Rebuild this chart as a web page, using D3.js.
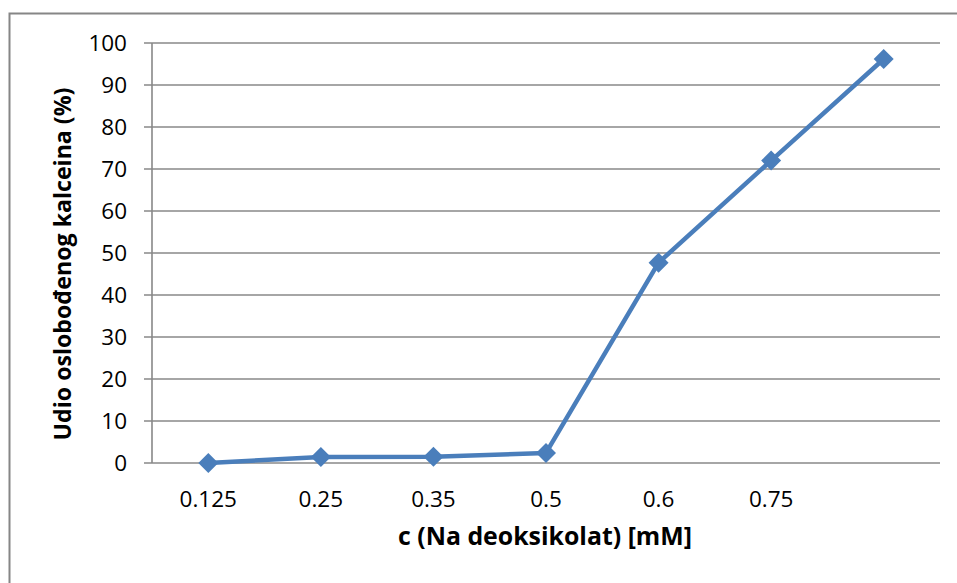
<!DOCTYPE html>
<html><head><meta charset="utf-8">
<script src="https://cdn.jsdelivr.net/npm/d3@7"></script>
<style>body{margin:0;background:#fff}svg{display:block}text{font-family:"Open Sans",Lato,sans-serif}</style>
</head><body>
<script>
const categories = ["0.125","0.25","0.35","0.5","0.6","0.75",""];
const values = [0, 1.4, 1.5, 2.4, 47.7, 72, 96.2];
const yTicks = [0,10,20,30,40,50,60,70,80,90,100];

const W=957,H=583;
const svg=d3.select("body").append("svg").attr("width",W).attr("height",H);
svg.append("rect").attr("x",9.5).attr("y",13.5).attr("width",960).attr("height",600)
  .attr("fill","#fff").attr("stroke","#868686").attr("stroke-width",2);

const L=152,R=940,T=43,B=463;
const x=d3.scaleBand().domain(d3.range(categories.length)).range([L,R]);
const y=d3.scaleLinear().domain([0,100]).range([B,T]);

svg.append("g").selectAll("line").data(yTicks).join("line")
  .attr("x1",L-8).attr("x2",R).attr("y1",d=>y(d)).attr("y2",d=>y(d))
  .attr("stroke","#888").attr("stroke-width",1.6);
svg.append("line").attr("x1",L).attr("x2",L).attr("y1",T).attr("y2",B)
  .attr("stroke","#888").attr("stroke-width",1.6);

svg.append("g").selectAll("text").data(yTicks).join("text")
  .attr("x",L-25).attr("y",d=>y(d)).attr("dy","0.36em").attr("text-anchor","end")
  .attr("font-size",22.5).attr("fill","#000").text(d=>d);

svg.append("g").selectAll("text").data(categories).join("text")
  .attr("x",(d,i)=>x(i)+x.bandwidth()/2).attr("y",507).attr("text-anchor","middle")
  .attr("font-size",22.5).attr("fill","#000").text(d=>d);

const line=d3.line().x((d,i)=>x(i)+x.bandwidth()/2).y(d=>y(d));
svg.append("path").datum(values).attr("d",line).attr("fill","none")
  .attr("stroke","#4a7ebb").attr("stroke-width",4.5).attr("stroke-linejoin","round");

svg.append("g").selectAll("path").data(values).join("path")
  .attr("d",d3.symbol().type(d3.symbolSquare).size(200))
  .attr("transform",(d,i)=>`translate(${x(i)+x.bandwidth()/2},${y(d)}) rotate(45)`)
  .attr("fill","#4a7ebb");

const xt=svg.append("text").attr("x",545).attr("y",545).attr("text-anchor","middle")
  .attr("font-size",21).attr("font-weight","bold").text("c (Na deoksikolat) [mM]");
const yt=svg.append("text").attr("transform","translate(71,264) rotate(-90)").attr("text-anchor","middle")
  .attr("font-size",21).attr("font-weight","bold").text("Udio oslobođenog kalceina (%)");
[[xt,294],[yt,353]].forEach(([t,w])=>{const l=t.node().getComputedTextLength();t.attr("font-size",21*w/l);});
</script>
</body></html>
